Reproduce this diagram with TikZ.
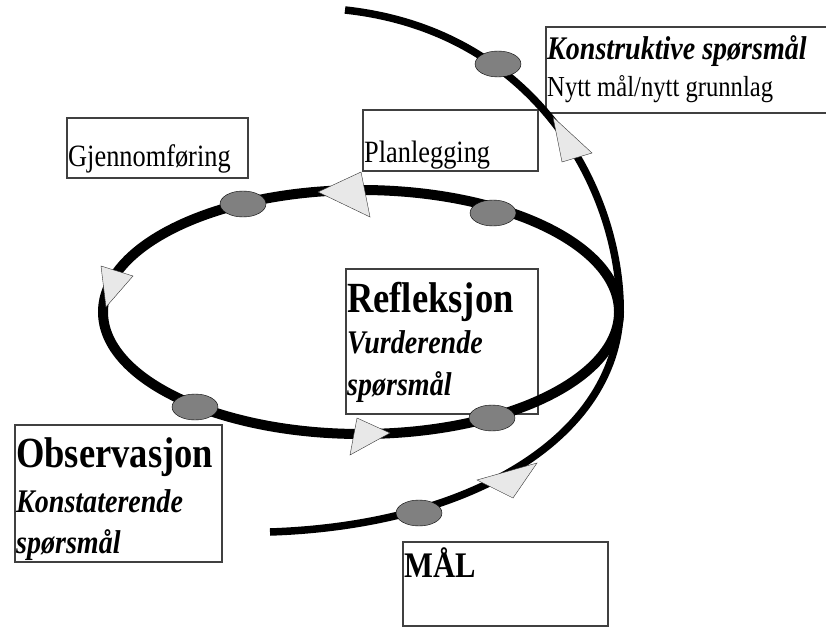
\documentclass[tikz,border=0pt]{standalone}
\usepackage{fontspec}
\setmainfont[FakeStretch=0.85]{Liberation Serif}
\usetikzlibrary{shapes.geometric}

\begin{document}
\begin{tikzpicture}[x=1pt,y=-1pt,
    sirkel/.style={line width=10pt,black},
    spiral/.style={line width=7.5pt,black},
    stopp/.style={ellipse,draw=black,thin,fill=black!50,minimum width=46pt,minimum height=26pt,inner sep=0pt},
    pil/.style={draw=black!80,thin,fill=black!9,line join=miter},
    boks/.style={draw=black!75,line width=1.2pt},
    tekst/.style={anchor=base west,inner sep=0pt,font=\fontsize{31}{36}\selectfont},
    tittel/.style={anchor=base west,inner sep=0pt,font=\fontsize{43}{48}\selectfont\bfseries},
    sporsmal/.style={anchor=base west,inner sep=0pt,font=\fontsize{33}{38}\selectfont\bfseries\itshape}]

    % white background, fixes the size
    \path[use as bounding box,fill=white] (0,0) rectangle (826,628);
    \clip (0,0) rectangle (826,628);

    % boxes
    \draw[boks] (67,118) rectangle (248,178);
    \draw[boks] (363,110) rectangle (538,171);
    \draw[boks] (546,27) rectangle (830,113);
    \draw[boks] (346,269) rectangle (538,414);
    \draw[boks] (15,425) rectangle (222,562);
    \draw[boks] (403,542) rectangle (608,626);

    % the loop
    \draw[sirkel] (361,312) ellipse [x radius=258, y radius=122];

    % the spiral going on
    \draw[spiral] (270,532) .. controls (480,525) and (625,430) .. (620,300)
        .. controls (615,180) and (530,30) .. (345,10);

    % stops on the way
    \node[stopp] (s1) at (243,204) {};
    \node[stopp] (s2) at (493,213) {};
    \node[stopp] (s3) at (195,407) {};
    \node[stopp] (s4) at (492,418) {};
    \node[stopp] (s5) at (498,64) {};
    \node[stopp] (s6) at (419,513) {};

    % arrow heads
    \filldraw[pil] (318,192) -- (361,172) -- (370,217) -- cycle;
    \filldraw[pil] (101,266) -- (133,276) -- (106,307) -- cycle;
    \filldraw[pil] (357,418) -- (390,433) -- (350,455) -- cycle;
    \filldraw[pil] (553,117) -- (592,153) -- (562,162) -- cycle;
    \filldraw[pil] (477,480) -- (537,463) -- (513,498) -- cycle;

    % labels
    \node[tekst] (gjennom) at (68,167) {Gjennomføring};
    \node[tekst] (plan) at (364,163) {Planlegging};
    \node[sporsmal] (konstr) at (547,60) {Konstruktive spørsmål};
    \node[tekst,font=\fontsize{29}{34}\selectfont] (nytt) at (547,97) {Nytt mål/nytt grunnlag};
    \node[tittel] (refl) at (347,312) {Refleksjon};
    \node[sporsmal] (vurd) at (347,353) {Vurderende};
    \node[sporsmal] (vurd2) at (347,395) {spørsmål};
    \node[tittel] (obs) at (16,467) {Observasjon};
    \node[sporsmal] (konst) at (16,512) {Konstaterende};
    \node[sporsmal] (konst2) at (16,553) {spørsmål};
    \node[tittel,font=\fontsize{36}{40}\selectfont\bfseries] (maal) at (404,577) {MÅL};

\end{tikzpicture}
\end{document}
